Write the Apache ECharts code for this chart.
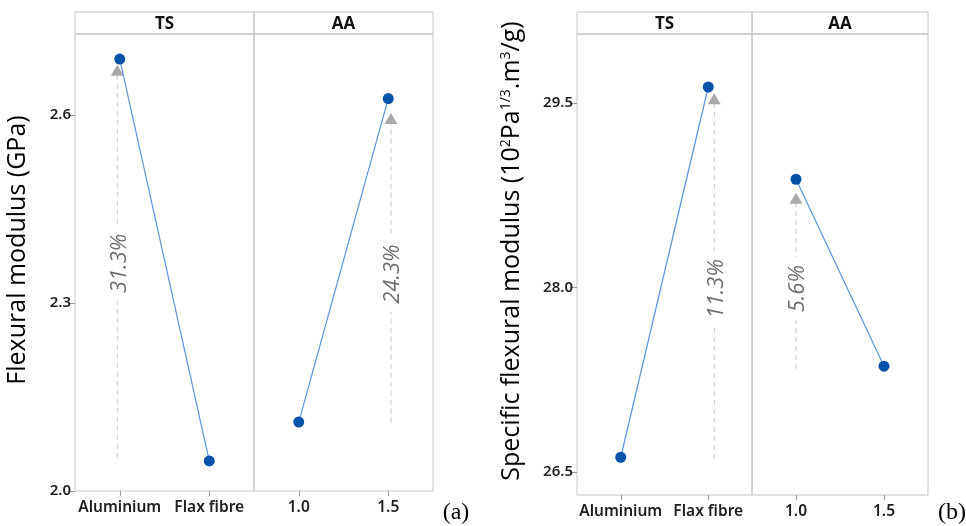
<!DOCTYPE html>
<html>
<head>
<meta charset="utf-8">
<script src="https://cdn.jsdelivr.net/npm/echarts@6/dist/echarts.min.js"></script>
<style>html,body{margin:0;padding:0;background:#fff;}#c{width:966px;height:526px;}</style>
</head>
<body>
<div id="c"></div>
<script>
// ---- data ----
const tsCategories = ['Aluminium', 'Flax fibre'];
const aaCategories = ['1.0', '1.5'];
const panelHeaders = ['TS', 'AA'];
const modulusTS = [2.689, 2.048];
const modulusAA = [2.110, 2.626];
const specificTS = [26.62, 29.63];
const specificAA = [28.88, 27.36];
const modulusTicks = [2.0, 2.3, 2.6];
const specificTicks = [26.5, 28.0, 29.5];
// arrows: [category index, from value, arrow tip value, label centre value]
const modulusTSArrow = [0, 2.053, 2.68, 2.363];
const modulusAAArrow = [1, 2.109, 2.603, 2.346];
const specificTSArrow = [1, 26.606, 29.58, 27.99];
const specificAAArrow = [0, 27.337, 28.771, 27.99];
const arrowLabels = ['31.3%', '24.3%', '11.3%', '5.6%'];
const axisTitleA = 'Flexural modulus (GPa)';
const panelTags = ['(a)', '(b)'];

// ---- layout ----
const UI = '"Open Sans", "Noto Sans", sans-serif';
const UI_SEMI = '"Noto Sans", "Open Sans", sans-serif';
const grids = [
  {left: 75, top: 34, width: 179, height: 457},
  {left: 254, top: 34, width: 179, height: 457},
  {left: 577, top: 34, width: 175, height: 461},
  {left: 752, top: 34, width: 176, height: 461}
];
const arrowOffsets = [-2.5, 2.7, 6, 0];
const headerTop = 12;

const chart = echarts.init(document.getElementById('c'), null, {renderer: 'canvas'});

function yAxisFor(gi, min, max, ticks, showLabels) {
  return {
    type: 'value', gridIndex: gi, min: min, max: max,
    splitLine: {show: false},
    axisLine: {show: false},
    axisTick: {show: showLabels, customValues: ticks, length: 7, lineStyle: {color: '#9a9a9a'}},
    axisLabel: {show: showLabels, customValues: ticks, margin: 4, fontFamily: UI_SEMI, fontSize: 15, fontWeight: 600, color: '#1e1e1e',
      formatter: v => v.toFixed(1)}
  };
}
function xAxisFor(gi, cats) {
  return {
    type: 'category', gridIndex: gi, data: cats, boundaryGap: true,
    axisLine: {show: false},
    axisTick: {show: true, alignWithLabel: true, length: 5, lineStyle: {color: '#9a9a9a'}},
    axisLabel: {margin: 9, fontFamily: UI_SEMI, fontSize: 15.5, fontWeight: 600, color: '#1e1e1e', interval: 0}
  };
}

function arrowSeries(gi, arr, k) {
  return {
    type: 'custom', xAxisIndex: gi, yAxisIndex: gi, z: 1, silent: true,
    data: [arr],
    renderItem: function (params, api) {
      const off = arrowOffsets[k];
      const pFrom = api.coord([api.value(0), api.value(1)]);
      const pTo = api.coord([api.value(0), api.value(2)]);
      const pLab = api.coord([api.value(0), api.value(3)]);
      const x = pFrom[0] + off;
      const triH = 11, triW = 13;
      return {
        type: 'group',
        children: [
          {type: 'line', shape: {x1: x, y1: pFrom[1], x2: x, y2: pTo[1] + triH},
            style: {stroke: '#c6c6c6', lineWidth: 1, lineDash: [5, 4]}},
          {type: 'polygon', shape: {points: [[x, pTo[1]], [x - triW / 2, pTo[1] + triH], [x + triW / 2, pTo[1] + triH]]},
            style: {fill: '#a9a9a9'}},
          {type: 'text', x: x + 2, y: pLab[1], rotation: Math.PI / 2,
            style: {text: arrowLabels[k], fontFamily: UI, fontStyle: 'italic', fontSize: 22, fill: '#6e6e6e',
              align: 'center', verticalAlign: 'middle', backgroundColor: '#fff', padding: [0, 8, 0, 8]}}
        ]
      };
    }
  };
}

function pointSeries(gi, values) {
  return {
    type: 'line', xAxisIndex: gi, yAxisIndex: gi, z: 3, data: values,
    symbol: 'circle', symbolSize: 11, showSymbol: true,
    lineStyle: {color: '#5a95dc', width: 1.2},
    itemStyle: {color: '#0652a8', borderWidth: 0},
    animation: false
  };
}

const graphics = [];
grids.forEach((g, i) => {
  graphics.push({type: 'rect', shape: {x: g.left, y: headerTop, width: g.width, height: g.top - headerTop},
    style: {fill: 'none', stroke: '#c4c4c4', lineWidth: 1}});
  graphics.push({type: 'text', x: g.left + g.width / 2, y: (headerTop + g.top) / 2 + 1,
    style: {text: panelHeaders[i % 2], fontFamily: UI, fontWeight: 'bold', fontSize: 17, fill: '#111',
      align: 'center', verticalAlign: 'middle'}});
});
graphics.push({type: 'text', x: 18, y: 250, rotation: Math.PI / 2,
  style: {text: axisTitleA, fontFamily: UI, fontSize: 25, fill: '#000', align: 'center', verticalAlign: 'middle'}});
graphics.push({type: 'text', x: 512, y: 251, rotation: Math.PI / 2,
  style: {text: 'Specific flexural modulus (10{s|2}Pa{s|1/3}.m{s|3}/g)', fontFamily: UI, fontSize: 25, fill: '#000',
    align: 'center', verticalAlign: 'middle',
    rich: {s: {fontFamily: UI, fontSize: 14, fill: '#000', verticalAlign: 'top', lineHeight: 14}}}});
graphics.push({type: 'text', x: 456, y: 513,
  style: {text: panelTags[0], fontFamily: '"Liberation Serif", serif', fontSize: 24, fill: '#000', align: 'center', verticalAlign: 'middle'}});
graphics.push({type: 'text', x: 952, y: 513,
  style: {text: panelTags[1], fontFamily: '"Liberation Serif", serif', fontSize: 24, fill: '#000', align: 'center', verticalAlign: 'middle'}});

const option = {
  backgroundColor: '#fff',
  animation: false,
  grid: grids.map(g => Object.assign({show: true, borderColor: '#c4c4c4', borderWidth: 1, containLabel: false}, g)),
  xAxis: [xAxisFor(0, tsCategories), xAxisFor(1, aaCategories), xAxisFor(2, tsCategories), xAxisFor(3, aaCategories)],
  yAxis: [
    yAxisFor(0, 2.0, 2.729, modulusTicks, true),
    yAxisFor(1, 2.0, 2.729, modulusTicks, false),
    yAxisFor(2, 26.313, 30.061, specificTicks, true),
    yAxisFor(3, 26.313, 30.061, specificTicks, false)
  ],
  series: [
    arrowSeries(0, modulusTSArrow, 0),
    arrowSeries(1, modulusAAArrow, 1),
    arrowSeries(2, specificTSArrow, 2),
    arrowSeries(3, specificAAArrow, 3),
    pointSeries(0, modulusTS),
    pointSeries(1, modulusAA),
    pointSeries(2, specificTS),
    pointSeries(3, specificAA)
  ],
  graphic: graphics
};
chart.setOption(option);
</script>
</body>
</html>
